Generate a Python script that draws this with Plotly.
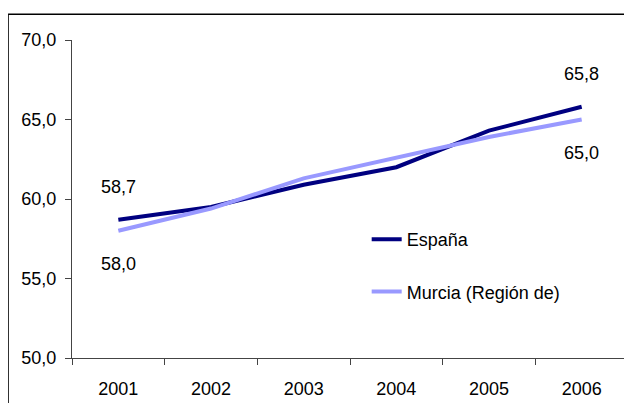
import plotly.graph_objects as go

# %% data
years = ["2001", "2002", "2003", "2004", "2005", "2006"]
espana = [58.7, 59.5, 60.9, 62.0, 64.3, 65.8]
murcia = [58.0, 59.4, 61.3, 62.6, 63.9, 65.0]
y_ticks = [50, 55, 60, 65, 70]

font_name = "Liberation Sans, Arial"
dark = "#000080"
light = "#9999FF"

fig = go.Figure()
fig.add_trace(go.Scatter(x=years, y=espana, mode="lines", name="España",
                         legendgroup="a", line=dict(color=dark, width=4)))
fig.add_trace(go.Scatter(x=years, y=murcia, mode="lines", name="Murcia (Región de)",
                         legendgroup="b", line=dict(color=light, width=4)))

# value labels only at first and last year (x given as category index)
for i in (0, len(years) - 1):
    fig.add_annotation(x=i, y=espana[i], text=f"{espana[i]:.1f}".replace(".", ","),
                       showarrow=False, yshift=33, font=dict(size=18, color="black"))
    fig.add_annotation(x=i, y=murcia[i], text=f"{murcia[i]:.1f}".replace(".", ","),
                       showarrow=False, yshift=-33, font=dict(size=18, color="black"))

# outer chart frame (left and top edges are visible)
fig.add_shape(type="line", xref="paper", yref="paper", x0=-0.115, x1=-0.115,
              y0=-0.2, y1=1.081, line=dict(color="black", width=1.5))
fig.add_shape(type="line", xref="paper", yref="paper", x0=-0.115, x1=1.1,
              y0=1.081, y1=1.081, line=dict(color="black", width=1.5))

# page body has an 8px margin, so the figure is a bit smaller than the window
fig.update_layout(
    width=624, height=395,
    margin=dict(l=64, r=4, t=32, b=43),
    plot_bgcolor="white", paper_bgcolor="white",
    separators=",.",
    font=dict(family=font_name, size=18, color="black"),
    showlegend=True,
    legend=dict(x=0.53, y=0.431, xanchor="left", yanchor="top",
                bgcolor="rgba(0,0,0,0)", tracegroupgap=26,
                font=dict(size=18)),
    xaxis=dict(type="category", range=[-0.5, 5.5], showgrid=False, showline=True,
               linecolor="#444", linewidth=1, ticks="outside", tickson="boundaries",
               ticklen=6, tickcolor="#444", tickfont=dict(size=18), tickangle=0,
               ticklabelstandoff=14),
    yaxis=dict(range=[50, 70], tickvals=y_ticks, tickformat=".1f", showgrid=False,
               showline=True, linecolor="#444", linewidth=1, ticks="outside",
               ticklen=6, tickcolor="#444", zeroline=False, tickfont=dict(size=18),
               ticklabelstandoff=5),
)

fig.write_html("out.html")
